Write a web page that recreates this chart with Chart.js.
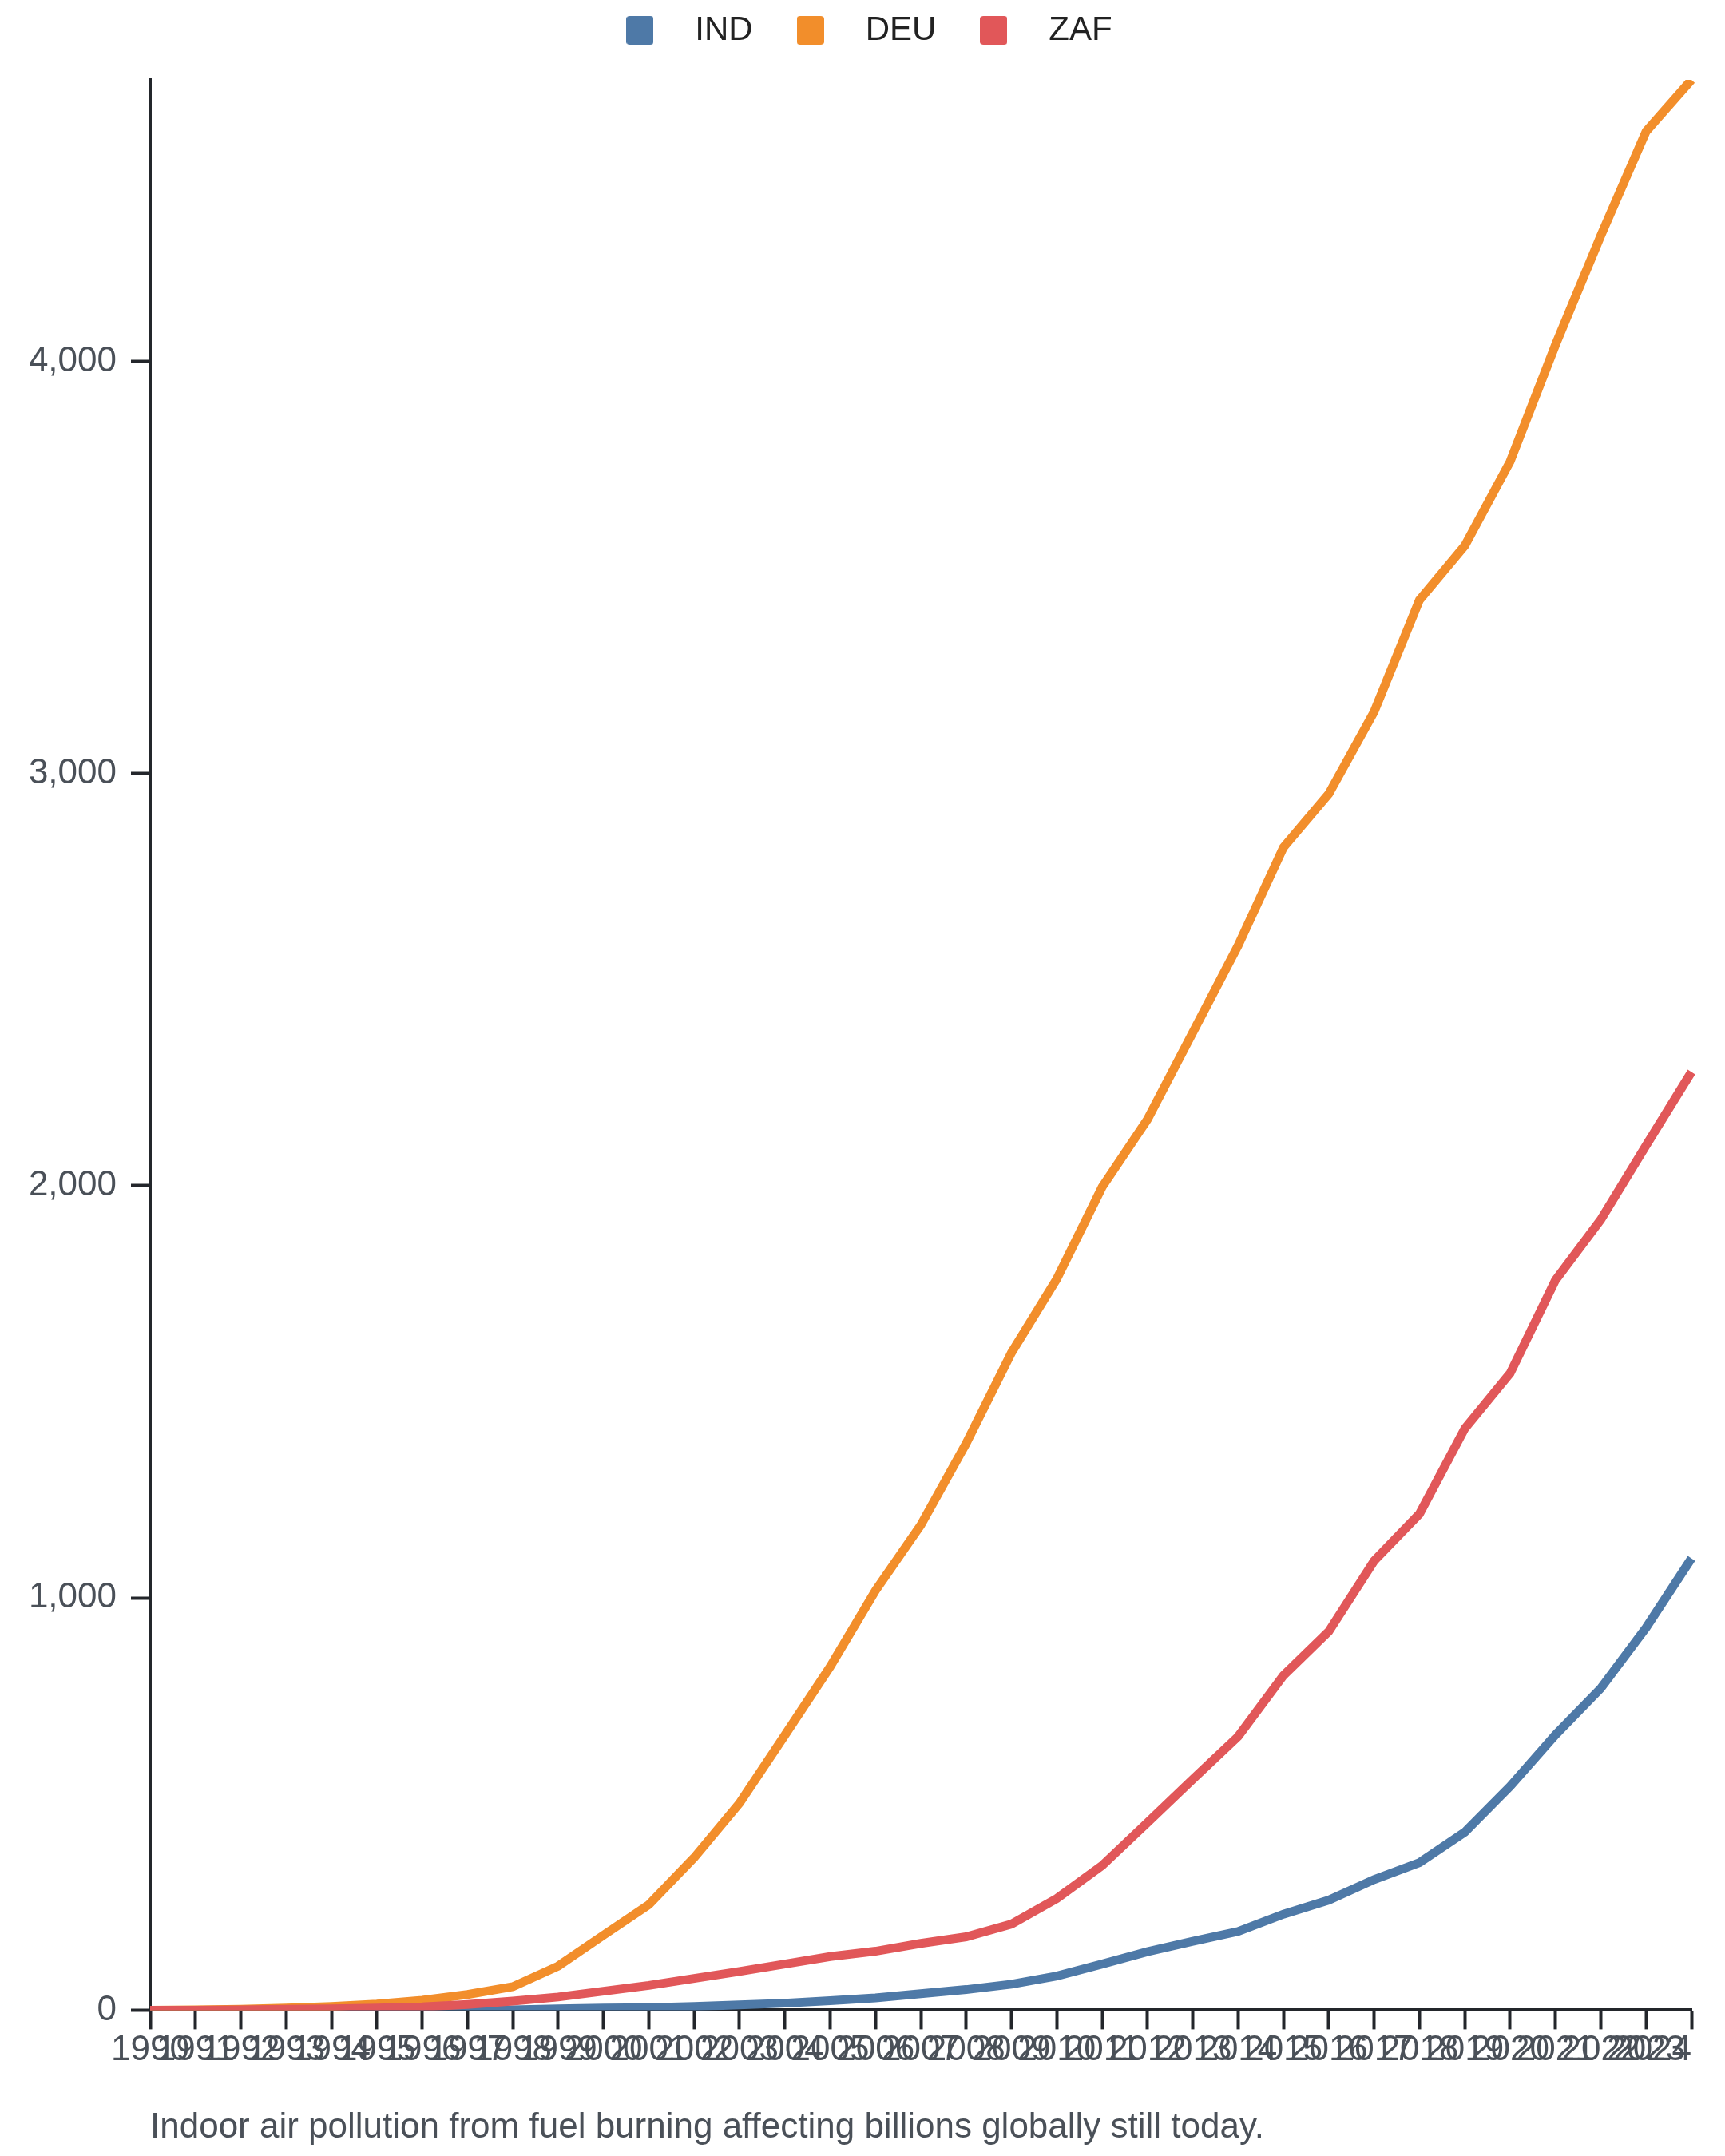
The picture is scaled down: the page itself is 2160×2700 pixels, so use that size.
<!DOCTYPE html>
<html>
<head>
<meta charset="utf-8">
<script src="https://cdn.jsdelivr.net/npm/chart.js@4/dist/chart.umd.min.js"></script>
<style>
  html, body { margin: 0; padding: 0; background: #ffffff; }
  canvas { display: block; }
</style>
</head>
<body>
<canvas id="chart" width="2160" height="2700" style="width:2160px;height:2700px"></canvas>
<script>
// ---- data ----
const years = ['1990','1991','1992','1993','1994','1995','1996','1997','1998','1999',
               '2000','2001','2002','2003','2004','2005','2006','2007','2008','2009',
               '2010','2011','2012','2013','2014','2015','2016','2017','2018','2019',
               '2020','2021','2022','2023','2024'];
const seriesNames = ['IND', 'DEU', 'ZAF'];
const IND = [0,0,0,0,0,0,0,0,1,3,5,6,9,13,17,23,30,40,50,63,83,112,142,167,191,233,267,317,358,432,543,668,781,928,1096];
const DEU = [0,1,2,5,9,15,24,38,57,107,182,256,370,502,667,833,1018,1177,1375,1595,1774,1997,2161,2372,2583,2821,2951,3150,3421,3553,3757,4040,4305,4558,4683];
const ZAF = [0,0,1,2,3,5,8,14,22,32,46,60,77,94,112,130,143,162,178,209,271,351,455,560,664,812,919,1090,1204,1411,1545,1771,1918,2098,2276];
const yTicks = [0, 1000, 2000, 3000, 4000];
const caption = 'Indoor air pollution from fuel burning affecting billions globally still today.';

// ---- styling ----
const colors = ['#4e79a7', '#f28e2b', '#e15759'];
const drawOrder = [2, 1, 0];          // ZAF on top, then DEU, then IND
const FONT = "'Liberation Sans', Arial, Helvetica, sans-serif";
const tickColor = '#4a5058';
const axisColor = '#23262b';

function swatch(color) {
  const c = document.createElement('canvas');
  c.width = 34; c.height = 36;
  const g = c.getContext('2d');
  g.fillStyle = color;
  g.beginPath();
  if (g.roundRect) { g.roundRect(0, 0, 34, 36, 4); } else { g.rect(0, 0, 34, 36); }
  g.fill();
  return c;
}

const seriesData = [IND, DEU, ZAF];
const datasets = seriesNames.map((name, i) => ({
  label: name,
  data: seriesData[i],
  borderColor: colors[i],
  backgroundColor: colors[i],
  borderWidth: 11,
  pointRadius: 0,
  pointHoverRadius: 0,
  pointStyle: swatch(colors[i]),
  tension: 0,
  fill: false,
  order: drawOrder[i],
  borderJoinStyle: 'miter'
}));

const legendGap = {
  id: 'legendGap',
  beforeLayout(chart) {
    const lg = chart.legend;
    if (lg && !lg._gapPatched) {
      const orig = lg.fit.bind(lg);
      lg.fit = function () { orig(); this.height += 31; };
      lg._gapPatched = true;
    }
  }
};

// the last year label sits flush with the end of the axis (right-aligned)
const trailingPad = '        ';

new Chart(document.getElementById('chart'), {
  type: 'line',
  data: { labels: years, datasets },
  options: {
    responsive: false,
    devicePixelRatio: 1,
    animation: false,
    layout: { padding: { top: -7, left: 28, right: 42, bottom: 0 } },
    plugins: {
      legend: {
        position: 'top',
        align: 'center',
        labels: {
          usePointStyle: true,
          pointStyleWidth: 96,
          boxHeight: 36,
          padding: 24,
          color: '#222222',
          font: { family: FONT, size: 42 },
          sort: (a, b) => a.datasetIndex - b.datasetIndex
        }
      },
      tooltip: { enabled: false }
    },
    scales: {
      x: {
        type: 'category',
        offset: false,
        afterFit: (scale) => { scale.paddingRight = 0; },
        grid: {
          display: true,
          drawOnChartArea: false,
          drawTicks: true,
          tickLength: 24,
          tickWidth: 4,
          tickColor: axisColor,
          offset: false
        },
        border: { display: true, color: axisColor, width: 4 },
        ticks: {
          autoSkip: false,
          maxRotation: 0,
          minRotation: 0,
          padding: 0,
          color: tickColor,
          font: { family: FONT, size: 44 },
          callback: function (val, idx, ticks) {
            const lbl = this.getLabelForValue(val);
            return idx === ticks.length - 1 ? lbl + trailingPad : lbl;
          }
        },
        title: {
          display: true,
          text: caption,
          align: 'start',
          color: tickColor,
          font: { family: FONT, size: 44 },
          padding: { top: 44, bottom: 9 }
        }
      },
      y: {
        type: 'linear',
        min: 0,
        max: Math.max(...IND, ...DEU, ...ZAF),
        afterBuildTicks: (scale) => { scale.ticks = yTicks.map(v => ({ value: v })); },
        afterFit: (scale) => { scale.width = 160; },
        grid: {
          display: true,
          drawOnChartArea: false,
          drawTicks: true,
          tickLength: 24,
          tickWidth: 4,
          tickColor: axisColor
        },
        border: { display: true, color: axisColor, width: 4 },
        ticks: {
          padding: 18,
          color: tickColor,
          font: { family: FONT, size: 44 },
          callback: (v) => Number(v).toLocaleString('en-US')
        }
      }
    }
  },
  plugins: [legendGap]
});
</script>
</body>
</html>
